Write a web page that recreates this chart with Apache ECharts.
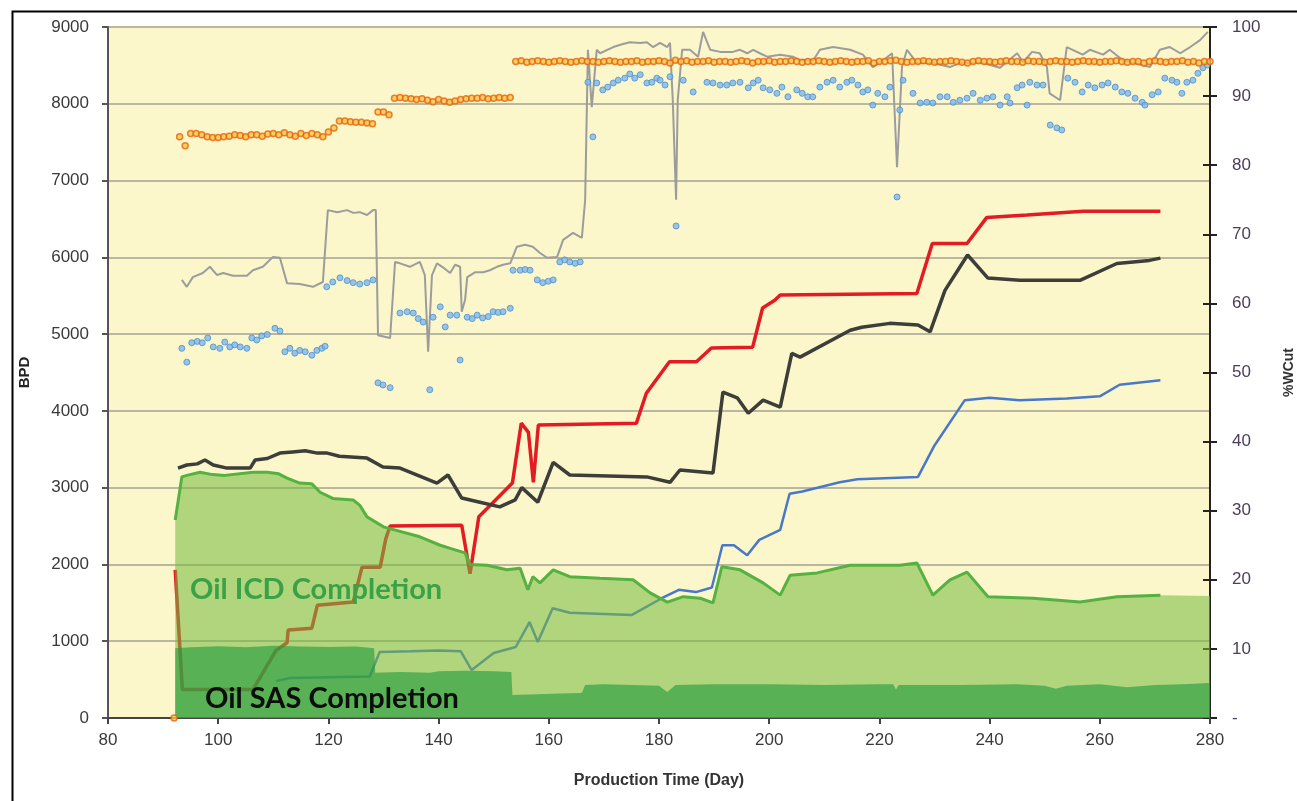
<!DOCTYPE html>
<html><head><meta charset="utf-8">
<script src="https://cdn.jsdelivr.net/npm/echarts@6/dist/echarts.min.js"></script>
<style>html,body{margin:0;padding:0;background:#fff;overflow:hidden}#c{width:1297px;height:801px}</style>
</head><body><div id="c"></div>
<script>
// ---------- DATA ----------
const xTicks = [80,100,120,140,160,180,200,220,240,260,280];
// Oil ICD completion rate (BPD) - light green area top
const icdOil = [[92.2,2580],[93.4,3140],[94.3,3160],[96.7,3200],[99,3170],[101.2,3160],[106.3,3200],[108.9,3200],[111,3180],[112.5,3125],[114.8,3060],[117,3050],[118.5,2940],[120.8,2860],[124.5,2840],[125.7,2770],[127,2620],[130,2490],[136.6,2360],[140.3,2250],[142.1,2210],[144.8,2150],[145.7,2000],[148.8,1990],[152.4,1930],[154.8,1950],[156.2,1670],[157.1,1840],[158.4,1760],[160.8,1930],[163.8,1840],[169.3,1820],[175.3,1800],[178.4,1630],[181.5,1510],[184.4,1580],[187.5,1560],[189.8,1500],[191.4,1970],[194.7,1930],[198.9,1760],[202,1600],[203.8,1860],[208.7,1890],[214.7,1990],[223.7,1990],[226.8,2020],[229.7,1600],[232.8,1800],[235.9,1900],[239.7,1580],[247.9,1560],[256.4,1510],[263.1,1580],[271,1600]];
const icdOilTail = [[280,1590]];
// Oil SAS completion rate (BPD) - dark green area
const sasOil = [[92.2,910],[95,920],[100,935],[105,920],[110,940],[115,930],[120,925],[125,930],[128.3,910],[128.5,590],[133,600],[138.4,590],[140,610],[145,615],[150,610],[153.2,600],[153.4,300],[158,310],[162,320],[166,325],[166.6,430],[170,440],[175,430],[180,420],[181.5,340],[183,430],[190,440],[200,440],[210,430],[220,440],[222.5,440],[223,370],[223.5,430],[235,430],[245,440],[250,420],[252,380],[254,420],[260,440],[265,400],[270,430],[275,440],[280,455]];
// Red line (BPD)
const redLine = [[92.2,1930],[93.5,370],[106.3,370],[110.5,880],[112.5,980],[112.7,1145],[117,1170],[118,1470],[124.5,1510],[126.1,1965],[129.4,1965],[130.4,2330],[131.2,2500],[144.2,2510],[145.7,1880],[147.3,2620],[149.8,2800],[153.4,3060],[155,3840],[156.3,3720],[157.2,3070],[158.1,3815],[175.9,3840],[177.7,4230],[181.9,4640],[186.8,4640],[189.5,4820],[197,4830],[198.8,5340],[201,5440],[202,5510],[226.8,5530],[229.6,6180],[235.9,6180],[239.5,6520],[246.8,6550],[257,6600],[271,6600]];
// Black line (BPD)
const blackLine = [[92.7,3255],[94.3,3295],[96.2,3310],[97.6,3360],[99.1,3295],[101.6,3255],[105.8,3255],[106.7,3360],[108.9,3380],[111.2,3450],[113.5,3465],[115.8,3480],[118,3450],[119.8,3450],[122,3410],[127,3385],[129.9,3270],[133,3255],[139.7,3060],[141.7,3165],[144.2,2865],[147.5,2810],[151.1,2750],[153.9,2840],[155.1,3000],[158,2810],[160.8,3330],[163.8,3165],[177.8,3140],[182,3070],[183.8,3230],[189.8,3190],[191.6,4245],[194.2,4170],[196.2,3970],[198.9,4140],[202,4050],[204.1,4750],[205.6,4700],[214.7,5050],[216.8,5090],[221.9,5140],[227,5120],[229.2,5030],[231.9,5570],[236,6030],[239.7,5730],[245.5,5700],[256.4,5700],[263.1,5920],[269,5960],[271,5990]];
// Blue line (BPD)
const blueLine = [[110.5,480],[113,520],[120,530],[127.5,540],[129.3,860],[135,870],[140,880],[144,870],[146,625],[150,846],[154,925],[156.5,1250],[158,990],[160.7,1430],[163.8,1370],[175,1340],[180.5,1560],[183.6,1670],[186.7,1640],[189.6,1700],[191.5,2250],[193.6,2250],[196,2120],[198.2,2320],[202,2450],[203.7,2920],[206,2950],[212.8,3070],[216,3110],[227,3140],[230,3550],[235.5,4140],[240,4170],[245.4,4140],[254,4160],[260,4190],[263.6,4340],[271,4400]];
// Gray line (% WCut)
const grayWcut = [[93.4,63.4],[94.3,62.4],[95.4,63.8],[97.2,64.4],[98.5,65.3],[99.8,64.1],[100.9,64.4],[102.7,64],[105.2,64],[106.3,64.8],[108.1,65.3],[109,66],[109.9,66.7],[111.2,66.6],[112.5,62.9],[114.8,62.8],[117.2,62.4],[119,63.1],[119.9,73.5],[121.6,73.2],[123.4,73.5],[124.5,73.1],[125.7,73.2],[127,72.8],[128.1,73.5],[128.6,73.5],[129,55.4],[131.2,55],[132.1,66],[133,65.8],[134.8,65.3],[136.6,66],[137.5,64.1],[138.1,53],[138.8,64.1],[139.7,65.8],[141,65.1],[142.1,64.4],[143,65.6],[143.9,65.3],[144.2,58.8],[144.8,60.5],[145.2,63.8],[146.6,64.5],[148.1,64.5],[149.3,64.8],[150.6,65.3],[151.7,65.6],[153,65.8],[154.2,68.2],[155.7,68.5],[157.1,68.2],[158.4,67.3],[159.7,66.6],[161.5,66.7],[162.6,69.2],[164.4,70.2],[166,69.5],[166.6,75],[167.1,96.7],[167.8,88.4],[168.7,96.7],[169.3,96.2],[171.7,97.1],[173.3,97.5],[174.7,97.8],[176.6,97.7],[177.8,97.8],[178.9,97.1],[180.2,97.7],[181.5,97.1],[182,97.7],[182.5,89.4],[183.1,75],[183.4,89.4],[184.2,96.7],[185.6,96.7],[187.1,95.7],[188,99.3],[189.3,96.7],[191.1,96.4],[193.4,96.4],[194.7,96.7],[196,96.2],[197.1,96.7],[198.3,96.2],[199.6,95.7],[202,96],[204.3,95.7],[205.6,95.2],[208,95.2],[209.2,96.7],[211.6,97.1],[214.7,96.7],[217,96],[218.8,94.2],[220.7,95.2],[222.3,96.2],[223.2,79.7],[224.1,94.2],[225,96.7],[226.8,94.8],[229.7,94.8],[232.8,94.2],[234.6,94.8],[238.8,94.8],[241.9,94.1],[245,96.2],[246.1,94.9],[247.7,96.4],[249.1,96.2],[250.4,94.2],[250.9,90.4],[252.8,89.4],[254,97.1],[256.9,96],[258.2,96.7],[260.6,96],[261.8,96.7],[264.2,95.2],[269.1,94.2],[270.9,96.7],[272.7,97.1],[274.6,96.2],[276.4,97.1],[278.2,98.1],[279.6,99.3]];
// Orange dots (% WCut), one per day starting at day 92
const orangeStartDay = 92;
const orangeWcut = [0,84.1,82.8,84.6,84.6,84.4,84.1,84.0,84.0,84.1,84.2,84.4,84.3,84.1,84.4,84.4,84.2,84.5,84.6,84.4,84.7,84.4,84.2,84.6,84.3,84.6,84.4,84.1,
 84.8,85.4,86.4,86.4,86.3,86.2,86.2,86.1,86.0,87.7,87.7,87.3,
 89.7,89.8,89.7,89.6,89.5,89.6,89.4,89.2,89.5,89.3,89.1,89.3,89.5,89.6,89.7,89.7,89.8,89.6,89.7,89.8,89.7,89.8,
 95.0,95.1,94.9,95.0,95.1,95.0,94.9,95.0,95.1,95.0,
 94.9,95.0,95.1,95.0,95.0,94.9,95.0,95.1,95.0,94.9,
 95.0,95.0,95.1,94.9,95.0,95.0,95.1,95.0,94.8,95.2,
 95.0,95.1,94.9,95.0,95.0,95.1,94.9,95.0,95.0,94.9,
 95.0,95.1,95.0,94.8,95.0,95.0,95.1,94.9,95.0,95.0,
 95.1,95.0,94.9,95.0,95.0,95.1,95.0,94.9,95.0,95.1,
 95.0,94.9,95.0,95.0,95.1,94.8,95.0,95.0,95.1,95.2,
 95.0,94.9,95.0,95.0,95.1,95.0,94.9,95.0,95.0,95.1,
 95.0,94.9,94.8,95.0,95.1,95.0,95.0,94.9,95.0,95.1,
 95.0,95.0,94.9,95.1,95.0,95.0,94.9,95.0,95.1,95.0,
 95.0,94.9,95.0,95.1,95.0,95.0,94.9,95.0,95.0,95.1,
 95.0,94.9,95.0,95.0,94.8,95.0,95.1,95.0,94.9,95.0,
 95.0,95.1,94.9,95.0,94.8,95.0,95.0];
// Blue dots (% WCut)
const blueWcut = [[93.4,53.5],[94.3,51.5],[95.2,54.3],[96.2,54.5],[97.1,54.3],[98.1,55],[99.1,53.7],[100.3,53.5],[101.2,54.4],[102.1,53.7],[103,54],[104,53.7],[105.2,53.5],[106.1,55],[107,54.7],[107.9,55.3],[108.9,55.5],[110.3,56.4],[111.2,56],[112.1,53],[113,53.5],[113.9,52.8],[114.8,53.2],[115.8,53],[117,52.5],[117.9,53.2],[118.8,53.5],[119.4,53.8],
[119.7,62.4],[120.8,63.1],[122.1,63.7],[123.4,63.3],[124.5,63],[125.7,62.8],[127,63],[128.1,63.4],
[129,48.5],[129.9,48.2],[131.2,47.8],
[133,58.6],[134.3,58.8],[135.4,58.6],[136.3,57.8],[137.2,57.3],[138.4,47.5],[139,58],[140.3,59.5],[141.2,56.6],[142.1,58.3],[143.3,58.3],[143.9,51.8],[145.2,58],[146.1,57.8],[147,58.3],[148,57.9],[149,58.1],[149.9,58.8],[150.8,58.7],[151.7,58.8],[153,59.3],
[153.5,64.8],[154.8,64.8],[155.7,64.9],[156.6,64.8],[157.9,63.4],[158.9,63],[159.9,63.2],[160.8,63.4],[162,66],[162.9,66.3],[163.8,66],[164.8,65.8],[165.7,66],
[167.1,92],[168,84.1],[168.7,91.9],[169.8,90.9],[170.7,91.3],[171.7,91.9],[172.6,92.3],[173.8,92.6],[174.7,93.2],[175.6,92.6],[176.6,93.1],[177.8,91.9],[178.7,92],[179.6,92.6],[180.2,92.3],[181.1,91.6],[182,92.8],[183.1,71.2],[184.4,92.3],[186.2,90.6],[188.7,92],[189.8,91.9],[191.1,91.6],[192.3,91.6],[193.4,91.9],[194.7,92],[196.2,91.2],[197.1,91.9],[198,92.3],[198.9,91.2],[200.1,90.9],[201.4,90.4],[202.3,91.3],[203.4,89.9],[205,90.9],[206,90.4],[207,89.9],[207.9,89.9],[209.2,91.3],[210.5,92],[211.6,92.3],[212.8,91.3],[214.1,92],[215,92.3],[216.1,91.6],[217,90.6],[217.9,90.9],[218.8,88.7],[219.7,90.4],[221,89.9],[221.9,91.3],[223.2,75.4],[223.7,88],[224.3,92.3],[226.1,90.4],[227.4,89],[228.6,89.1],[229.7,89],[231,89.9],[232.3,89.9],[233.4,89.1],[234.6,89.4],[235.9,89.7],[237,90.4],[238.3,89.4],[239.5,89.7],[240.6,89.9],[241.9,88.7],[243.2,89.9],[243.7,89],[245,91.2],[245.9,91.6],[246.8,88.7],[247.3,92],[248.6,91.6],[249.7,91.6],[251,85.8],[252.2,85.4],[253.1,85.1],[254.2,92.6],[255.5,92],[256.8,90.6],[257.9,91.6],[259.1,91.2],[260.4,91.6],[261.5,91.9],[262.8,91.3],[264,90.6],[265.1,90.4],[266.4,89.7],[267.7,89.1],[268.2,88.7],[269.5,90.2],[270.6,90.6],[271.8,92.6],[273.1,92.3],[274,92],[274.9,90.4],[275.8,92],[276.9,92.3],[277.8,93.3],[278.7,94.1],[279.5,94.5]];
const labelICD = 'Oil ICD Completion';
const labelSAS = 'Oil SAS Completion';

// ---------- CHART ----------
const chart = echarts.init(document.getElementById('c'), null, {renderer:'canvas', width:1297, height:801});
const orangeData = orangeWcut.map((v,i)=>[orangeStartDay+i, v]);
const labelFont = 'Liberation Sans, Arial, sans-serif';
chart.setOption({
  animation:false,
  backgroundColor:'#ffffff',
  grid:{left:108, right:87, top:27, bottom:83, show:true, backgroundColor:'#FBF7CB', borderWidth:0,
        containLabel:false, outerBoundsMode:'none'},
  xAxis:{type:'value', min:80, max:280, interval:20,
    name:'Production Time (Day)', nameLocation:'middle', nameGap:55,
    nameTextStyle:{fontFamily:labelFont, fontWeight:'bold', fontSize:16, color:'#333'},
    axisLine:{show:true, onZero:false, lineStyle:{color:'#444', width:2}},
    axisTick:{show:true, length:6, lineStyle:{color:'#444', width:2}},
    axisLabel:{fontFamily:labelFont, fontSize:17, color:'#3a3a3a', margin:14,
      formatter:v=>xTicks.includes(v)?String(v):''},
    splitLine:{show:false}},
  yAxis:[
    {type:'value', min:0, max:9000, interval:1000, position:'left',
     name:'BPD', nameLocation:'middle', nameGap:76, nameRotate:90,
     nameTextStyle:{fontFamily:labelFont, fontWeight:'bold', fontSize:15, color:'#222'},
     axisLine:{show:true, lineStyle:{color:'#555', width:2}},
     axisTick:{show:true, length:6, lineStyle:{color:'#555', width:2}},
     axisLabel:{fontFamily:labelFont, fontSize:17, color:'#3a3a3a', margin:19, formatter:v=>String(v)},
     splitLine:{show:true, lineStyle:{color:'#B9B6A2', width:2}}},
    {type:'value', min:0, max:100, interval:10, position:'right',
     name:'%WCut', nameLocation:'middle', nameGap:72, nameRotate:90,
     nameTextStyle:{fontFamily:labelFont, fontWeight:'bold', fontSize:14, color:'#333'},
     axisLine:{show:true, lineStyle:{color:'#222', width:2}},
     axisTick:{show:true, length:7, lineStyle:{color:'#222', width:2}},
     axisLabel:{fontFamily:labelFont, fontSize:17, color:'#4a3e58', margin:22,
       formatter:v=>v===0?'-':String(v)},
     splitLine:{show:false}},
    {type:'value', min:0, max:100, interval:10, position:'right',
     axisLine:{show:false},
     axisTick:{show:true, inside:true, length:7, lineStyle:{color:'#222', width:2}},
     axisLabel:{show:false}, splitLine:{show:false}}
  ],
  series:[
    {name:'red', type:'line', yAxisIndex:0, data:redLine, symbol:'none', z:2,
     lineStyle:{color:'#E31B23', width:3.5}},
    {name:'blueLine', type:'line', yAxisIndex:0, data:blueLine, symbol:'none', z:2,
     lineStyle:{color:'#4A78C8', width:2.5}},
    {name:'icdArea', type:'line', yAxisIndex:0, data:icdOil.concat(icdOilTail), symbol:'none', z:3,
     lineStyle:{width:0}, areaStyle:{color:'rgba(118,186,62,0.8)', origin:'start'}},
    {name:'icdLine', type:'line', yAxisIndex:0, data:icdOil, symbol:'none', z:3,
     lineStyle:{color:'#55B140', width:3}},
    {name:'sasArea', type:'line', yAxisIndex:0, data:sasOil, symbol:'none', z:4,
     lineStyle:{width:0}, areaStyle:{color:'rgba(36,156,62,0.9)', origin:'start'}},
    {name:'gray', type:'line', yAxisIndex:1, data:grayWcut, symbol:'none', z:5,
     lineStyle:{color:'#9C9C9C', width:2}},
    {name:'black', type:'line', yAxisIndex:0, data:blackLine, symbol:'none', z:6,
     lineStyle:{color:'#3D3D3A', width:3.5}},
    {name:'blueDots', type:'scatter', yAxisIndex:1, data:blueWcut, symbol:'circle', symbolSize:6, z:7,
     itemStyle:{color:'#7FB6EA', borderColor:'#4C8ED2', borderWidth:1}},
    {name:'orangeDots', type:'scatter', yAxisIndex:1, data:orangeData, symbol:'circle', symbolSize:6, z:8,
     itemStyle:{color:'#F6C64A', borderColor:'#E8620E', borderWidth:1.5}}
  ],
  graphic:[
    {type:'rect', left:10, top:9, shape:{width:1320, height:820}, style:{fill:'none', stroke:'#000', lineWidth:2}, z:100},
    {type:'text', left:190, top:575, z:50, style:{text:labelICD, fill:'#3AA246', font:'bold 29px Lato, "Open Sans", sans-serif'}},
    {type:'text', left:205, top:684, z:50, style:{text:labelSAS, fill:'#0d0d0d', font:'bold 29px Lato, "Open Sans", sans-serif'}}
  ]
});
</script></body></html>
